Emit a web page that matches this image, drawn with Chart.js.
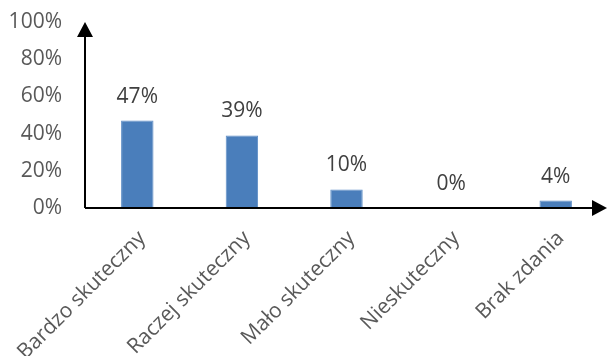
<!DOCTYPE html>
<html>
<head>
<meta charset="utf-8">
<script src="https://cdn.jsdelivr.net/npm/chart.js@4"></script>
<style>
  html, body { margin: 0; padding: 0; background: #fff; }
  #wrap { width: 608px; height: 356px; }
</style>
</head>
<body>
<div id="wrap"><canvas id="ocena"></canvas></div>
<script>
// Dane wykresu
const kategorie = ['Bardzo skuteczny', 'Raczej skuteczny', 'Mało skuteczny', 'Nieskuteczny', 'Brak zdania'];
const wartosci = [47, 39, 10, 0, 4];
const osY = [0, 20, 40, 60, 80, 100];

const FONT = '"Open Sans", "Noto Sans", sans-serif';

// Osie ze strzałkami na końcach
const strzalki = {
    id: 'strzalki',
    afterDraw(chart) {
        const ctx = chart.ctx;
        const a = chart.chartArea;
        const y0 = chart.scales.y.getPixelForValue(0);
        const yTop = chart.scales.y.getPixelForValue(100);
        ctx.save();
        ctx.strokeStyle = '#000';
        ctx.fillStyle = '#000';
        ctx.lineWidth = 2;
        ctx.beginPath();
        ctx.moveTo(a.left, y0);
        ctx.lineTo(a.left, yTop + 12);
        ctx.moveTo(a.left, y0);
        ctx.lineTo(a.right - 12, y0);
        ctx.stroke();
        // grot osi Y
        ctx.beginPath();
        ctx.moveTo(a.left, yTop);
        ctx.lineTo(a.left - 8, yTop + 15);
        ctx.lineTo(a.left + 8, yTop + 15);
        ctx.closePath();
        ctx.fill();
        // grot osi X
        ctx.beginPath();
        ctx.moveTo(a.right - 1, y0);
        ctx.lineTo(a.right - 16, y0 - 8);
        ctx.lineTo(a.right - 16, y0 + 8);
        ctx.closePath();
        ctx.fill();
        ctx.restore();
    }
};

// Etykiety wartości nad słupkami
const etykiety = {
    id: 'etykiety',
    afterDatasetsDraw(chart) {
        const ctx = chart.ctx;
        const meta = chart.getDatasetMeta(0);
        ctx.save();
        ctx.font = '21px ' + FONT;
        ctx.fillStyle = '#404040';
        ctx.textAlign = 'center';
        ctx.textBaseline = 'middle';
        meta.data.forEach((bar, i) => {
            ctx.fillText(wartosci[i] + '%', bar.x, bar.y - 24);
        });
        ctx.restore();
    }
};

new Chart(document.getElementById('ocena'), {
    type: 'bar',
    data: {
        labels: kategorie,
        datasets: [{
            data: wartosci,
            backgroundColor: '#4a7ebb',
            borderColor: '#5d8dc6',
            borderWidth: 1,
            categoryPercentage: 1,
            barPercentage: 0.31
        }]
    },
    options: {
        responsive: true,
        maintainAspectRatio: false,
        animation: false,
        layout: { padding: { top: 22, right: 0, bottom: 0, left: 0 } },
        plugins: {
            legend: { display: false },
            tooltip: { enabled: false }
        },
        scales: {
            x: {
                grid: { display: false, drawTicks: false },
                border: { display: false },
                ticks: {
                    color: '#595959',
                    font: { family: FONT, size: 21 },
                    minRotation: 45,
                    maxRotation: 45,
                    labelOffset: 5,
                    padding: 18
                },
                afterFit(scale) {
                    scale.height = 148;
                    scale.paddingLeft = 0;
                    scale.paddingRight = 0;
                }
            },
            y: {
                min: 0,
                max: 100,
                afterBuildTicks(scale) {
                    scale.ticks = osY.map(v => ({ value: v }));
                },
                grid: { display: false, drawTicks: false },
                border: { display: false },
                ticks: {
                    color: '#595959',
                    font: { family: FONT, size: 21 },
                    padding: 23,
                    callback: v => v + '%'
                },
                afterFit(scale) {
                    scale.width = 85;
                    scale.paddingTop = 0;
                    scale.paddingBottom = 0;
                }
            }
        }
    },
    plugins: [strzalki, etykiety]
});
</script>
</body>
</html>
